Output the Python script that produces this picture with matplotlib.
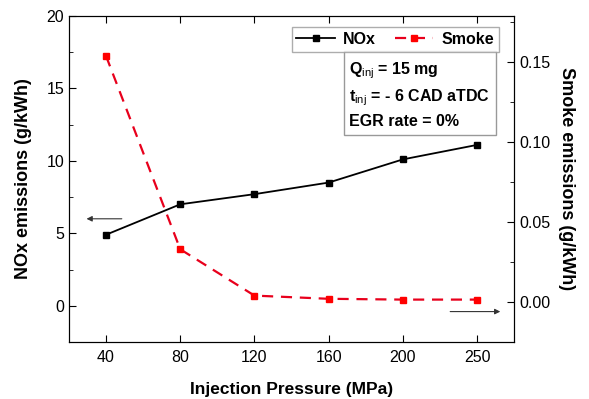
import matplotlib.pyplot as plt
import numpy as np
from matplotlib.ticker import MultipleLocator

plt.rcParams['font.family'] = ['Liberation Sans', 'DejaVu Sans']
plt.rcParams['mathtext.fontset'] = 'custom'
plt.rcParams['mathtext.bf'] = 'Liberation Sans:bold'
plt.rcParams['mathtext.rm'] = 'Liberation Sans'

# --- Data ---
pressure = ['40', '80', '120', '160', '200', '250']
nox = [4.9, 7.0, 7.7, 8.5, 10.1, 11.1]
smoke = [0.154, 0.033, 0.004, 0.002, 0.0015, 0.0015]

x = np.arange(len(pressure))

fig = plt.figure(figsize=(5.89, 3.99), dpi=100)
ax1 = fig.add_axes([0.117, 0.143, 0.756, 0.817])
ax2 = ax1.twinx()

l1, = ax1.plot(x, nox, '-s', color='black', lw=1.3, ms=5, label='NOx')
l2, = ax2.plot(x, smoke, '--s', color='#e8001c', lw=1.6, ms=5,
               mfc='red', mec='red', dashes=(5, 3.5), label='Smoke')

ax1.set_xlim(-0.5, 5.5)
ax1.set_ylim(-2.5, 20)
ax2.set_ylim(-0.025, 0.179)

ax1.set_xticks(x)
ax1.set_xticklabels(pressure)
ax1.yaxis.set_major_locator(MultipleLocator(5))
ax1.yaxis.set_minor_locator(MultipleLocator(2.5))
ax2.set_yticks([0.0, 0.05, 0.10, 0.15])
ax2.set_yticklabels(['0.00', '0.05', '0.10', '0.15'])
ax2.yaxis.set_minor_locator(MultipleLocator(0.025))

ax1.tick_params(axis='x', direction='in', top=True, length=5, labelsize=11.5, pad=6)
ax1.tick_params(axis='y', which='both', direction='in', labelsize=11.5)
ax1.tick_params(axis='y', which='major', length=5)
ax1.tick_params(axis='y', which='minor', length=3)
ax2.tick_params(axis='y', which='both', direction='in', labelsize=11.5)
ax2.tick_params(axis='y', which='major', length=5)
ax2.tick_params(axis='y', which='minor', length=3)

ax1.set_xlabel('Injection Pressure (MPa)', fontsize=12.5, fontweight='bold', labelpad=12)
ax1.set_ylabel('NOx emissions (g/kWh)', fontsize=13, fontweight='bold', labelpad=10)
ax2.set_ylabel('Smoke emissions (g/kWh)', fontsize=13, fontweight='bold',
               rotation=270, labelpad=18)

leg = ax1.legend(handles=[l1, l2], loc='upper right', ncol=2,
                 prop={'weight': 'bold', 'size': 11.5}, fancybox=False,
                 edgecolor='#999999', handlelength=2.4, columnspacing=1.2,
                 borderaxespad=0.7, handletextpad=0.5, borderpad=0.3,
                 bbox_to_anchor=(0.99, 1.0))
leg.get_frame().set_linewidth(1.0)

ax1.text(0.63, 0.865,
         '$\\mathbf{Q}_{\\mathrm{inj}}$ = 15 mg\n$\\mathbf{t}_{\\mathrm{inj}}$ = - 6 CAD aTDC\nEGR rate = 0%',
         transform=ax1.transAxes, ha='left', va='top', multialignment='left',
         fontsize=11.5, fontweight='bold', linespacing=1.5,
         bbox=dict(boxstyle='square,pad=0.35', fc='white', ec='#999999', lw=1.0))

# direction arrows
ax1.annotate('', xy=(-0.3, 6.0), xytext=(0.25, 6.0),
             arrowprops=dict(arrowstyle='-|>', color='#333333', lw=0.8,
                             mutation_scale=8))
ax2.annotate('', xy=(5.35, -0.006), xytext=(4.6, -0.006),
             arrowprops=dict(arrowstyle='-|>', color='#333333', lw=0.8,
                             mutation_scale=8))

plt.savefig('out.png', dpi=100)
